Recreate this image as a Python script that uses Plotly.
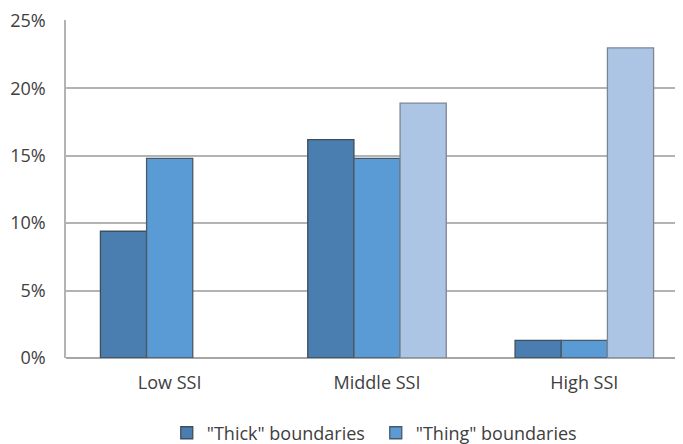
import plotly.graph_objects as go

categories = ["Low SSI", "Middle SSI", "High SSI"]
thick_values = [0.094, 0.162, 0.013]
thing_values = [0.148, 0.148, 0.013]
third_values = [None, 0.189, 0.230]
series_names = ['"Thick" boundaries', '"Thing" boundaries', 'Third series']
y_ticks = [0, 0.05, 0.10, 0.15, 0.20, 0.25]
y_tick_labels = ["0%", "5%", "10%", "15%", "20%", "25%"]

font_family = "Open Sans"
text_color = "#404040"

fig = go.Figure()
fig.add_trace(go.Bar(x=categories, y=thick_values, name=series_names[0],
                     marker=dict(color="#4A7EB0", line=dict(color="#404d5a", width=1.3))))
fig.add_trace(go.Bar(x=categories, y=thing_values, name=series_names[1],
                     marker=dict(color="#5B9BD5", line=dict(color="#4a5866", width=1.3))))
fig.add_trace(go.Bar(x=categories, y=third_values, name=series_names[2], showlegend=False,
                     marker=dict(color="#ADC5E5", line=dict(color="#7a8596", width=1.3))))

fig.update_layout(
    width=683, height=444,
    margin=dict(l=58, r=3, t=12, b=94, autoexpand=False),
    paper_bgcolor="white", plot_bgcolor="white",
    barmode="group", bargap=0.332, bargroupgap=0,
    font=dict(family=font_family, size=18, color=text_color),
    showlegend=True,
    legend=dict(orientation="h", x=0.162, xanchor="left", y=-0.222, yanchor="middle",
                font=dict(size=18, color=text_color), entrywidth=164, entrywidthmode="pixels",
                traceorder="normal"),
)
fig.update_xaxes(range=[-0.5, 2.5], showline=False, showgrid=False, ticks="",
                 ticklabelstandoff=12, tickfont=dict(size=18), automargin=False)
fig.update_yaxes(range=[0, 0.2507], tickvals=y_ticks, ticktext=y_tick_labels,
                 showgrid=True, gridcolor="#b3b3b3", gridwidth=1.5,
                 showline=True, linecolor="#b3b3b3", linewidth=1.5,
                 zeroline=True, zerolinecolor="#a6a6a6", zerolinewidth=2,
                 ticks="", ticklabelstandoff=15, tickfont=dict(size=18), automargin=False,
                 ticklabeloverflow="allow")

fig.write_html("out.html")
